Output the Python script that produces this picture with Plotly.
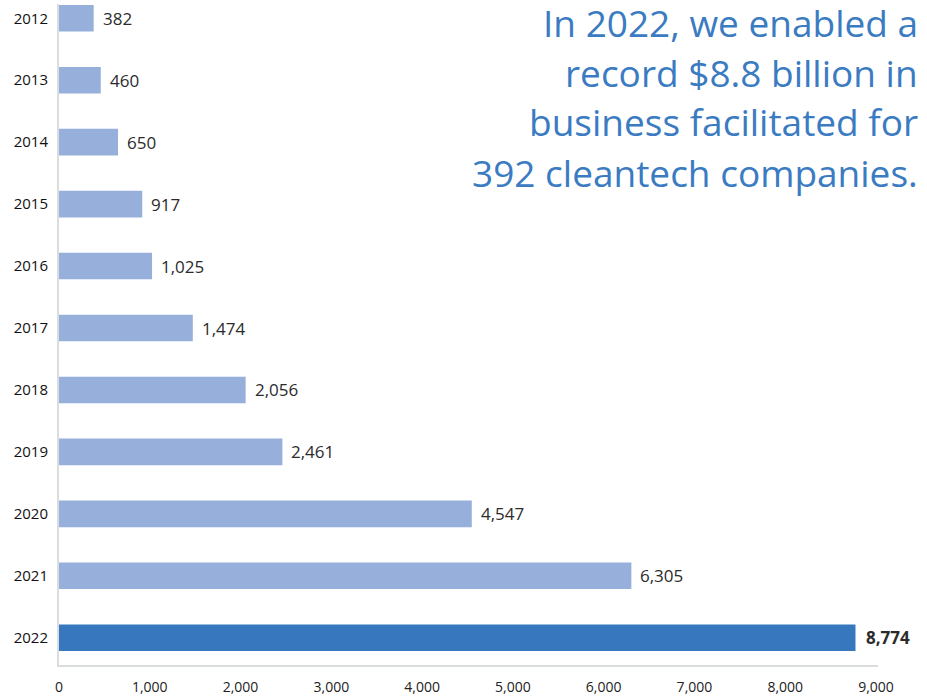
import plotly.graph_objects as go

# Business facilitated per year (US$ millions)
years = ["2012", "2013", "2014", "2015", "2016", "2017", "2018", "2019", "2020", "2021", "2022"]
values = [382, 460, 650, 917, 1025, 1474, 2056, 2461, 4547, 6305, 8774]
x_ticks = [0, 1000, 2000, 3000, 4000, 5000, 6000, 7000, 8000, 9000]
headline = [
    "In 2022, we enabled a",
    "record $8.8 billion in",
    "business facilitated for",
    "392 cleantech companies.",
]

LIGHT = "#97afdb"
DARK = "#3777bd"
TEXT_BLUE = "#3a7bc2"
FONT = "Open Sans"

colors = [DARK if y == years[-1] else LIGHT for y in years]
positions = list(range(len(years)))

fig = go.Figure(
    go.Bar(
        x=values,
        y=positions,
        orientation="h",
        width=0.43,
        marker=dict(color=colors, line=dict(width=0)),
        hoverinfo="skip",
    )
)

# value labels just past each bar end
for i, (y, v) in enumerate(zip(years, values)):
    label = f"{v:,}"
    last = y == years[-1]
    if last:
        label = f"<b>{label}</b>"
    fig.add_annotation(
        x=v, y=i, xref="x", yref="y",
        text=label, showarrow=False,
        xanchor="left", yanchor="middle", xshift=9 if last else 7,
        font=dict(family=FONT, size=17, color="#2b2b2b"),
    )

# headline, right aligned, one annotation per line
W, H = 927, 697
ML, MR, MT, MB = 59, 49, 4, 32
pw, ph = W - ML - MR, H - MT - MB
line_centers = [23, 72, 122, 172]
for txt, yc in zip(headline, line_centers):
    fig.add_annotation(
        x=(920 - ML) / pw, y=(H - MB - yc) / ph,
        xref="paper", yref="paper",
        text=txt, showarrow=False,
        xanchor="right", yanchor="middle",
        font=dict(family=FONT, size=37, color=TEXT_BLUE),
    )

fig.update_layout(
    width=W, height=H,
    margin=dict(l=ML, r=MR, t=MT, b=MB),
    paper_bgcolor="white", plot_bgcolor="white",
    showlegend=False,
    font=dict(family=FONT, color="#222"),
)
fig.update_xaxes(
    automargin=False,
    range=[0, 9022],
    tickvals=x_ticks,
    ticktext=[f"{t:,}" for t in x_ticks],
    tickfont=dict(family=FONT, size=14, color="#222"),
    showgrid=False, zeroline=False,
    showline=True, linecolor="#d9dddd", linewidth=2,
    ticks="", ticklabelstandoff=8,
)
fig.update_yaxes(
    automargin=False,
    range=[10.44, -0.23],
    tickvals=positions,
    ticktext=years,
    tickfont=dict(family=FONT, size=15, color="#111"),
    showgrid=False, zeroline=False,
    showline=True, linecolor="#d9dddd", linewidth=2,
    ticks="", ticklabelstandoff=6,
)

fig.write_html("out.html")
